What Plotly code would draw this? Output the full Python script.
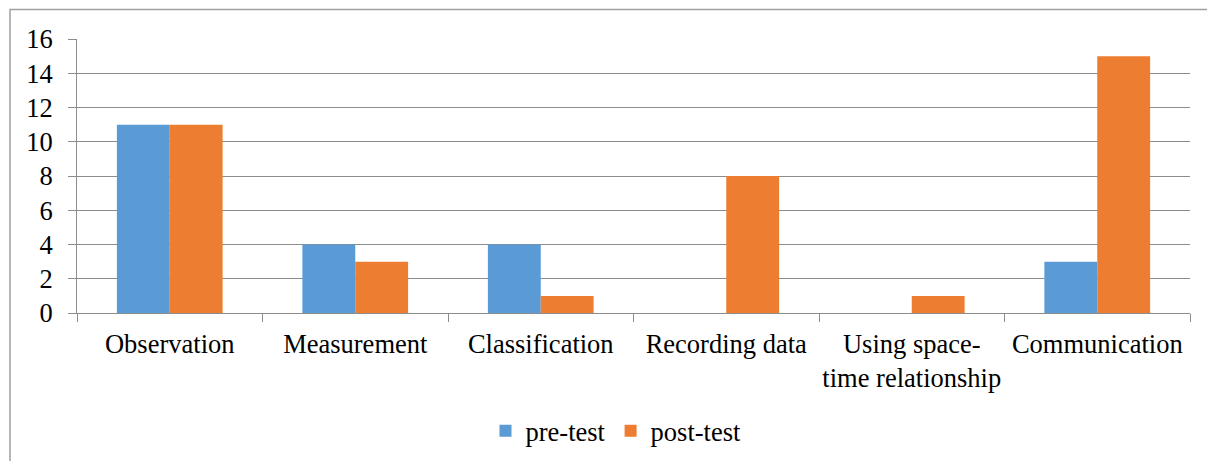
import plotly.graph_objects as go

categories = ["Observation", "Measurement", "Classification", "Recording data",
              "Using space-<br>time relationship", "Communication"]
pre_test = [11, 4, 4, 0, 0, 3]
post_test = [11, 3, 1, 8, 1, 15]
y_ticks = [0, 2, 4, 6, 8, 10, 12, 14, 16]

# page body has an 8px margin; compensate so the plot lands where it should
OFF = 8
W, H = 1215 - OFF, 461 - OFF
L, R, T, B = 77 - OFF, 25, 39 - OFF, 148
pw, ph = W - L - R, H - T - B
base = H - B  # figure px of x-axis line


def py(win_y):
    return (base - (win_y - OFF)) / ph


def px(win_x):
    return ((win_x - OFF) - L) / pw


FONT = dict(family="Liberation Serif", size=26.5, color="#000000")
GRID = "#8c8c8c"

fig = go.Figure()
fig.add_trace(go.Bar(x=categories, y=pre_test, name="pre-test",
                     marker=dict(color="#5B9BD5", line=dict(width=0))))
fig.add_trace(go.Bar(x=categories, y=post_test, name="post-test",
                     marker=dict(color="#ED7D31", line=dict(width=0))))

fig.update_layout(
    width=W, height=H,
    margin=dict(l=L, r=R, t=T, b=B, pad=0, autoexpand=False),
    paper_bgcolor="white", plot_bgcolor="white",
    font=FONT,
    barmode="group", bargap=0.43, bargroupgap=0,
    showlegend=True,
    legend=dict(orientation="h", x=px(616), xanchor="center",
                y=py(431), yanchor="middle",
                font=FONT, itemwidth=30, traceorder="normal"),
    xaxis=dict(showgrid=False, showline=True, linecolor=GRID, linewidth=1,
               ticks="outside", ticklen=8, tickcolor=GRID, automargin=False,
               tickangle=0, tickson="boundaries", tickfont=FONT,
               ticklabelstandoff=7),
    yaxis=dict(range=[0, 16], tickvals=y_ticks, showgrid=True, gridcolor=GRID,
               gridwidth=1, showline=True, linecolor=GRID, linewidth=1,
               ticks="outside", ticklen=8, tickcolor=GRID, zeroline=False,
               automargin=False, tickfont=FONT, ticklabelstandoff=10),
)

fig.add_shape(type="rect", xref="paper", yref="paper",
              x0=px(10), x1=px(1225),
              y0=py(475), y1=py(9.5),
              line=dict(color="#a0a0a0", width=1.5), fillcolor="rgba(0,0,0,0)",
              layer="below")

fig.write_html("out.html")
